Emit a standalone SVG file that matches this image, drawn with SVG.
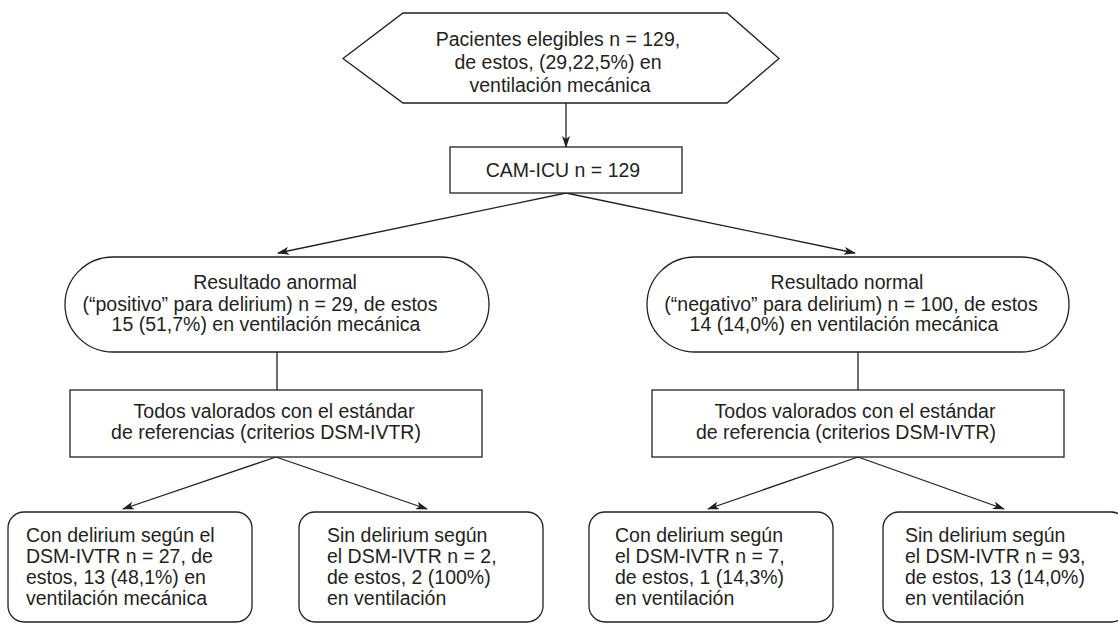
<svg xmlns="http://www.w3.org/2000/svg" width="1118" height="624" viewBox="0 0 1118 624">
<defs>
<marker id="arr" viewBox="0 0 12 8" refX="11" refY="4" markerWidth="12" markerHeight="8" markerUnits="userSpaceOnUse" orient="auto">
<path d="M0,0 L12,4 L0,8 L3,4 z" fill="#231f20"/>
</marker>
<style>
.shape{fill:#fff;stroke:#231f20;stroke-width:1.3}
.conn{fill:none;stroke:#231f20;stroke-width:1.3}
text{font-family:"Liberation Sans",Arial,sans-serif;font-size:19.5px;fill:#231f20}
.c{text-anchor:middle}
</style>
</defs>
<rect width="1118" height="624" fill="#fff"/>
<g id="connectors">
<line class="conn" x1="566" y1="103" x2="566" y2="147" marker-end="url(#arr)"/>
<line class="conn" x1="566" y1="193" x2="278" y2="253" marker-end="url(#arr)"/>
<line class="conn" x1="566" y1="193" x2="855" y2="253" marker-end="url(#arr)"/>
<line class="conn" x1="277" y1="352" x2="277" y2="390"/>
<line class="conn" x1="858" y1="352" x2="858" y2="390"/>
<line class="conn" x1="276" y1="457" x2="123" y2="509" marker-end="url(#arr)"/>
<line class="conn" x1="276" y1="457" x2="427" y2="509" marker-end="url(#arr)"/>
<line class="conn" x1="858" y1="457" x2="708" y2="509" marker-end="url(#arr)"/>
<line class="conn" x1="858" y1="457" x2="1004" y2="509" marker-end="url(#arr)"/>
</g>
<g id="n-pacientes">
<polygon class="shape" points="343,58.5 403,13 727,13 779,58.5 727,103 403,103"/>
<text class="c" x="558" y="45.5">Pacientes elegibles n = 129,</text>
<text class="c" x="558" y="68.5">de estos, (29,22,5%) en</text>
<text class="c" x="560" y="91.5">ventilación mecánica</text>
</g>
<g id="n-camicu">
<rect class="shape" x="450" y="147" width="232" height="46"/>
<text class="c" x="563" y="177">CAM-ICU n = 129</text>
</g>
<g id="n-anormal">
<rect class="shape" x="65" y="257" width="424" height="95" rx="48" ry="47.5"/>
<text class="c" x="275" y="289">Resultado anormal</text>
<text class="c" x="260" y="310.5">(“positivo” para delirium) n = 29, de estos</text>
<text class="c" x="266" y="331">15 (51,7%) en ventilación mecánica</text>
</g>
<g id="n-normal">
<rect class="shape" x="647" y="257" width="422" height="95" rx="48" ry="47.5"/>
<text class="c" x="847" y="289">Resultado normal</text>
<text class="c" x="851" y="310.5">(“negativo” para delirium) n = 100, de estos</text>
<text class="c" x="844" y="331">14 (14,0%) en ventilación mecánica</text>
</g>
<g id="n-todos-izq">
<rect class="shape" x="70" y="390" width="412" height="67"/>
<text class="c" x="274" y="418">Todos valorados con el estándar</text>
<text class="c" x="266" y="439">de referencias (criterios DSM-IVTR)</text>
</g>
<g id="n-todos-der">
<rect class="shape" x="652" y="390" width="412" height="67"/>
<text class="c" x="855" y="418">Todos valorados con el estándar</text>
<text class="c" x="846" y="439">de referencia (criterios DSM-IVTR)</text>
</g>
<g id="n-con-izq">
<rect class="shape" x="8" y="512" width="244" height="110" rx="16"/>
<text x="26" y="542">Con delirium según el</text>
<text x="26" y="563">DSM-IVTR n = 27, de</text>
<text x="26" y="584">estos, 13 (48,1%) en</text>
<text x="26" y="605">ventilación mecánica</text>
</g>
<g id="n-sin-izq">
<rect class="shape" x="299" y="512" width="244" height="110" rx="16"/>
<text x="327" y="542">Sin delirium según</text>
<text x="327" y="563">el DSM-IVTR n = 2,</text>
<text x="327" y="584">de estos, 2 (100%)</text>
<text x="327" y="605">en ventilación</text>
</g>
<g id="n-con-der">
<rect class="shape" x="589" y="512" width="244" height="110" rx="16"/>
<text x="615" y="542">Con delirium según</text>
<text x="615" y="563">el DSM-IVTR n = 7,</text>
<text x="615" y="584">de estos, 1 (14,3%)</text>
<text x="615" y="605">en ventilación</text>
</g>
<g id="n-sin-der">
<rect class="shape" x="883" y="512" width="244" height="110" rx="16"/>
<text x="905" y="542">Sin delirium según</text>
<text x="905" y="563">el DSM-IVTR n = 93,</text>
<text x="905" y="584">de estos, 13 (14,0%)</text>
<text x="905" y="605">en ventilación</text>
</g>
</svg>
